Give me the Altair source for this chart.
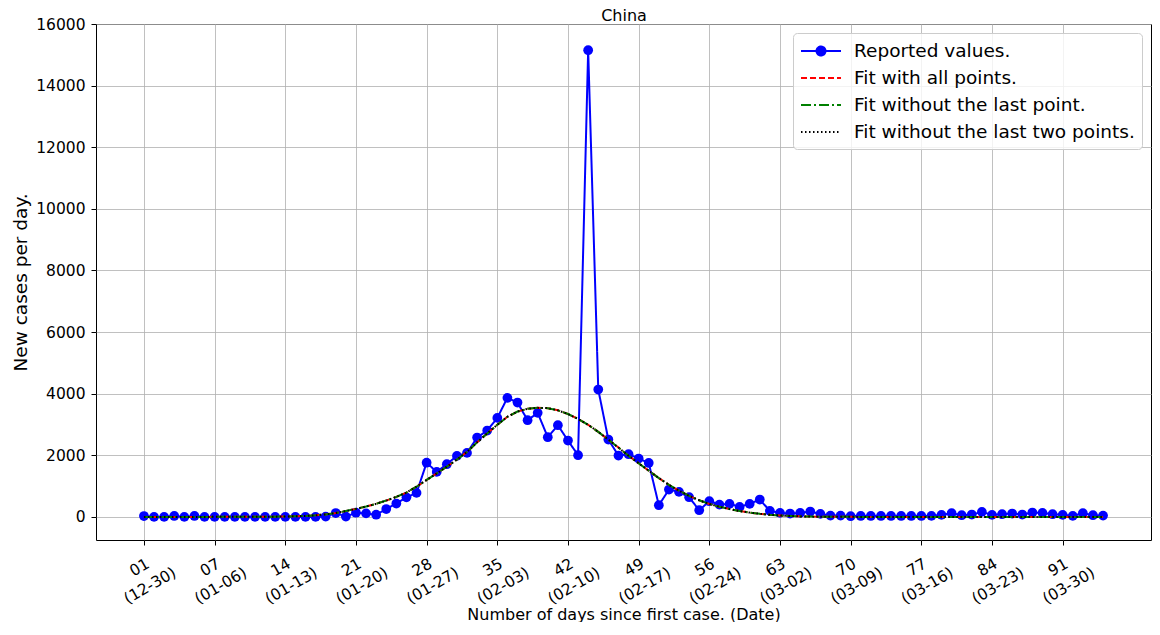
import altair as alt
import pandas as pd

# ---------------- data ----------------
days = list(range(96))

reported = [
    27, 0, 0, 30, 0, 30, 0, 0, 0, 0,
    0, 0, 0, 0, 0, 0, 0, 0, 10, 125,
    10, 135, 113, 70, 255, 433, 634, 779, 1758, 1461,
    1710, 1980, 2078, 2576, 2803, 3214, 3864, 3712, 3139, 3377,
    2587, 2976, 2478, 2002, 15150, 4134, 2511, 1991, 2035, 1894,
    1750, 379, 887, 812, 639, 216, 509, 400, 422, 325,
    422, 563, 195, 130, 108, 130, 173, 97, 43, 43,
    22, 30, 30, 30, 30, 30, 30, 30, 32, 65,
    119, 54, 76, 162, 65, 87, 108, 76, 141, 130,
    87, 65, 32, 119, 54, 43,
]

fit_all = [
    0, 0, 0, 0, 0, 0, 0, 1, 1, 1,
    2, 3, 5, 8, 12, 20, 32, 50, 80, 125,
    190, 260, 335, 425, 530, 650, 790, 980, 1200, 1410,
    1630, 1860, 2110, 2420, 2710, 2990, 3250, 3420, 3510, 3540,
    3530, 3460, 3340, 3180, 2990, 2760, 2510, 2250, 1985, 1740,
    1500, 1260, 1040, 850, 680, 540, 420, 330, 255, 190,
    140, 100, 68, 45, 28, 17, 10, 6, 3, 2,
    1, 0, 0, 0, 0, 0, 0, 0, 0, 0,
    0, 0, 0, 0, 0, 0, 0, 0, 0, 0,
    0, 0, 0, 0, 0, 0,
]
fit_without_last = list(fit_all)
fit_without_last_two = list(fit_all)

chart_title = "China"
series_names = [
    "Reported values.",
    "Fit with all points.",
    "Fit without the last point.",
    "Fit without the last two points.",
]
series_colors = ["#0000ff", "#ff0000", "#008000", "#000000"]
series_dashes = [[1, 0], [6, 3], [10, 3, 2, 3], [1.5, 2.5]]
legend_shapes = [
    "M-1,0L3,0M0.55,0A0.45,0.45,0,1,1,1.45,0A0.45,0.45,0,1,1,0.55,0Z",
    "M-1,0L3,0", "M-1,0L3,0", "M-1,0L3,0",
]
legend_fills = ["#0000ff", "transparent", "transparent", "transparent"]

tick_days = [0, 7, 14, 21, 28, 35, 42, 49, 56, 63, 70, 77, 84, 91]
tick_day_labels = ["01", "07", "14", "21", "28", "35", "42", "49", "56",
                   "63", "70", "77", "84", "91"]
tick_date_labels = ["(12-30)", "(01-06)", "(01-13)", "(01-20)", "(01-27)",
                    "(02-03)", "(02-10)", "(02-17)", "(02-24)", "(03-02)",
                    "(03-09)", "(03-16)", "(03-23)", "(03-30)"]
y_ticks = [0, 2000, 4000, 6000, 8000, 10000, 12000, 14000, 16000]

# ---------------- build tables ----------------
rows = []
for name, vals in zip(series_names, [reported, fit_all, fit_without_last, fit_without_last_two]):
    for d, v in zip(days, vals):
        rows.append({"day": d, "value": v, "series": name})
df = pd.DataFrame(rows)
legend_df = pd.DataFrame({"series": series_names, "day": [None] * 4, "value": [None] * 4})

label_expr = (
    "[" + ",".join(f"['{a}','{b}']" for a, b in zip(tick_day_labels, tick_date_labels)) + "]"
    + "[indexof([" + ",".join(str(t) for t in tick_days) + "], datum.value)]"
)

FONT = "DejaVu Sans"
x_scale = alt.Scale(domain=[-4.75, 99.75], nice=False, zero=False)
y_scale = alt.Scale(domain=[-750, 16000], nice=False, zero=False)

x_enc = alt.X(
    "day:Q", scale=x_scale,
    axis=alt.Axis(
        values=tick_days, labelExpr=label_expr, labelAngle=330,
        labelAlign="center", labelBaseline="middle", labelPadding=22,
        labelOffset=-5,
        labelLineHeight=21, labelFontSize=15.5, labelOverlap=False,
        labelFlush=False, labelBound=False, tickSize=5,
        title="Number of days since first case. (Date)", titleFontSize=16,
        titleFontWeight="normal", titleBaseline="alphabetic", titleY=79,
    ),
)
# top axis only carries the chart title
x_top = alt.X(
    "day:Q", scale=x_scale,
    axis=alt.Axis(
        orient="top", labels=False, ticks=False, grid=False, domain=False,
        title=chart_title, titleFontSize=16, titleFontWeight="normal",
        titleBaseline="alphabetic", titleY=-4,
    ),
)
x_none = alt.X("day:Q", scale=x_scale, axis=None)
y_enc = alt.Y(
    "value:Q", scale=y_scale,
    axis=alt.Axis(
        values=y_ticks, format="d", labelFontSize=15.5, labelPadding=6,
        tickSize=5, title="New cases per day.", titleFontSize=18.5,
        titleFontWeight="normal", titleBaseline="alphabetic", titleX=-70,
    ),
)
y_none = alt.Y("value:Q", scale=y_scale, axis=None)

legend = alt.Legend(
    title=None, orient="top-right", offset=9, direction="vertical",
    fillColor="rgba(255,255,255,0.8)", strokeColor="#cccccc", cornerRadius=4,
    padding=7, labelFont=FONT, labelFontSize=18.5, labelColor="#000000",
    labelLimit=600, symbolSize=400, symbolStrokeWidth=2, symbolOpacity=1,
    labelOffset=32, rowPadding=6,
)

color_enc = alt.Color("series:N", scale=alt.Scale(domain=series_names, range=series_colors), legend=legend)
dash_enc = alt.StrokeDash("series:N", scale=alt.Scale(domain=series_names, range=series_dashes), legend=legend)
shape_enc = alt.Shape("series:N", scale=alt.Scale(domain=series_names, range=legend_shapes), legend=legend)
fill_enc = alt.Fill("series:N", scale=alt.Scale(domain=series_names, range=legend_fills), legend=legend)

base = alt.Chart(df)

reported_line = base.transform_filter(
    alt.datum.series == series_names[0]
).mark_line(strokeWidth=2).encode(x=x_enc, y=y_enc, color=color_enc, strokeDash=dash_enc)

reported_pts = base.transform_filter(
    alt.datum.series == series_names[0]
).mark_point(filled=True, size=95, opacity=1, color="#0000ff").encode(x=x_none, y=y_none)

fit_lines = base.transform_filter(
    alt.datum.series != series_names[0]
).mark_line(strokeWidth=2).encode(x=x_none, y=y_none, color=color_enc, strokeDash=dash_enc)

legend_layer = alt.Chart(legend_df).mark_point(strokeWidth=2).encode(
    x=x_top, y=y_none, shape=shape_enc, fill=fill_enc,
    color=color_enc, strokeDash=dash_enc,
)

chart = alt.layer(reported_line, reported_pts, fit_lines, legend_layer).resolve_axis(
    x="independent", y="independent"
).properties(
    width=1055,
    height=516,
    autosize=alt.AutoSizeParams(type="none"),
    padding={"left": 88, "top": 16, "right": 1, "bottom": 82},
).configure(font=FONT).configure_view(
    stroke="#000000", strokeWidth=1
).configure_axis(
    domain=False, tickColor="#000000", labelColor="#000000", titleColor="#000000",
    labelFont=FONT, titleFont=FONT, grid=True, gridColor="#b0b0b0", gridWidth=0.8,
)

chart.save("out.html", embed_options={"renderer": "svg", "actions": False})
